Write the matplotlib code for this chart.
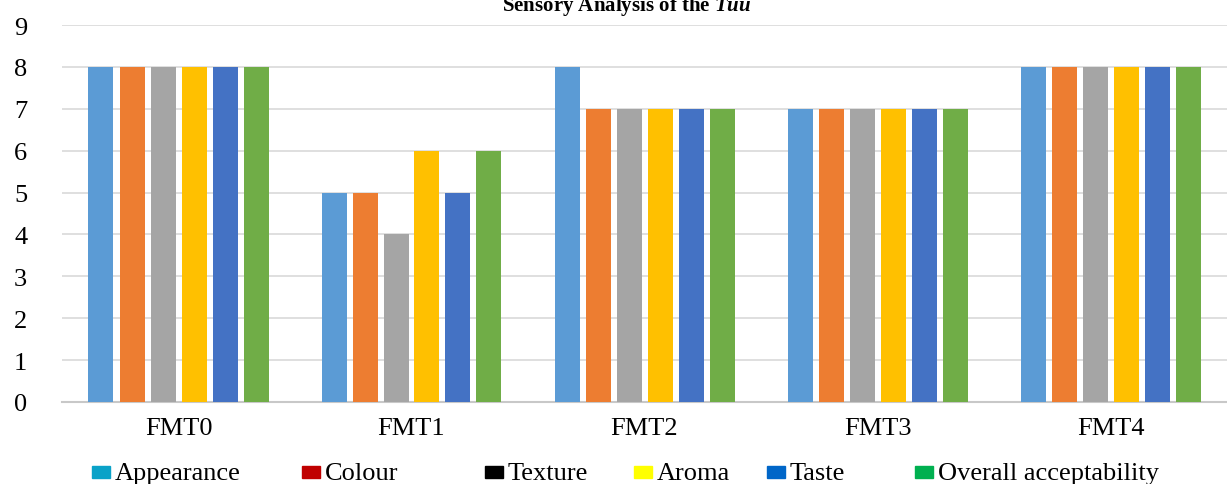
import numpy as np
import matplotlib.pyplot as plt
from matplotlib.patches import Rectangle

plt.rcParams['font.family'] = ['Liberation Serif', 'DejaVu Serif']
plt.rcParams['mathtext.fontset'] = 'custom'
plt.rcParams['mathtext.it'] = 'Liberation Serif:italic:bold'
plt.rcParams['mathtext.rm'] = 'Liberation Serif:bold'

samples = ['FMT0', 'FMT1', 'FMT2', 'FMT3', 'FMT4']
attributes = ['Appearance', 'Colour', 'Texture', 'Aroma', 'Taste', 'Overall acceptability']

appearance = [8, 5, 8, 7, 8]
colour = [8, 5, 7, 7, 8]
texture = [8, 4, 7, 7, 8]
aroma = [8, 6, 7, 7, 8]
taste = [8, 5, 7, 7, 8]
overall = [8, 6, 7, 7, 8]
scores = [appearance, colour, texture, aroma, taste, overall]

# bars use the office palette, the key uses the older standard colours
bar_colors = ['#5B9BD5', '#ED7D31', '#A5A5A5', '#FFC000', '#4472C4', '#70AD47']
key_colors = ['#0AA2C8', '#C00000', '#000000', '#FFFF00', '#0066C8', '#00B050']
# left edge of each key swatch, in pixels
key_x = [92, 302, 485, 634, 767, 915]

W, H = 1227, 485
fig = plt.figure(figsize=(W / 100, H / 100), dpi=100)
ax = fig.add_axes([62 / W, 82 / H, (W - 62) / W, 377 / H])

x = np.arange(len(samples))
pitch = 31 / 233
width = 25 / 233
for i, vals in enumerate(scores):
    ax.bar(x + (i - 2.5) * pitch, vals, width, color=bar_colors[i], zorder=3)

ax.set_xlim(-0.5, 4.5)
ax.set_ylim(0, 9)
ax.set_yticks(range(10))
ax.set_xticks(x)
ax.set_xticklabels(samples)
ax.tick_params(axis='both', length=0, labelsize=19)
ax.tick_params(axis='y', pad=25)
ax.tick_params(axis='x', pad=11)
ax.grid(axis='y', color='#D9D9D9', linewidth=1.2, zorder=0)
for s in ['top', 'right', 'left']:
    ax.spines[s].set_visible(False)
ax.spines['bottom'].set_color('#C8C8C8')
ax.spines['bottom'].set_linewidth(1.5)

# title sits right at the top edge of the page
fig.text(627 / W, 1 - 11 / H, 'Sensory Analysis of the $\\it{Tuu}$', ha='center',
         va='baseline', fontsize=15, fontweight='bold')

# hand-placed key along the bottom
for name, c, px in zip(attributes, key_colors, key_x):
    fig.add_artist(Rectangle((px / W, 1 - 479 / H), 18 / W, 12 / H,
                             transform=fig.transFigure, color=c))
    fig.text((px + 23) / W, 1 - 480 / H, name, fontsize=19, va='baseline')

fig.savefig('out.png', dpi=100)
